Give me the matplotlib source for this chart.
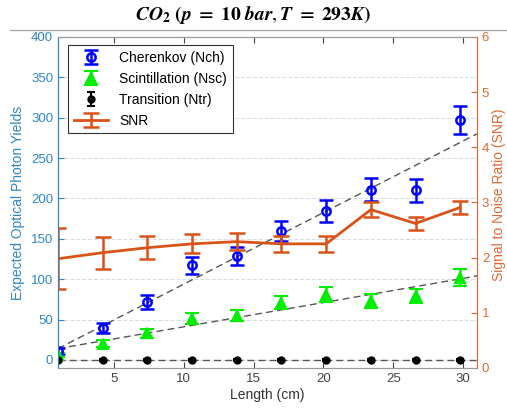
import matplotlib.pyplot as plt
from matplotlib.lines import Line2D

plt.rcParams['font.family'] = ['Liberation Sans', 'DejaVu Sans']
plt.rcParams['mathtext.fontset'] = 'stix'

# data
length = [1.0, 4.2, 7.4, 10.6, 13.8, 17.0, 20.2, 23.4, 26.6, 29.8]

nch = [11, 40, 72, 117, 129, 160, 185, 211, 210, 297]
nch_err = [3.3, 6.3, 8.5, 10.8, 11.4, 12.6, 13.6, 14.5, 14.5, 17.2]

nsc = [6, 20, 33, 51, 55, 71, 81, 73, 79, 102]
nsc_err = [2.5, 4.5, 5.7, 7.1, 7.4, 8.4, 9.0, 8.5, 8.9, 10.1]

ntr = [0, 0, 0, 0, 0, 0, 0, 0, 0, 0]
ntr_err = [1, 1, 1, 1, 1, 1, 1, 1, 1, 1]

snr = [1.98, 2.09, 2.18, 2.25, 2.29, 2.25, 2.25, 2.87, 2.62, 2.91]
snr_err = [0.55, 0.29, 0.21, 0.17, 0.16, 0.15, 0.14, 0.13, 0.12, 0.12]

# dashed linear fits (end points)
fit_x = [1, 31]
fit_ch = [14, 280]
fit_sc = [14, 104]
fit_tr = [0, 0]

blue = '#2E86C8'
orange = '#D95319'
orange_ax = '#DD6A35'

fig = plt.figure(figsize=(5.07, 4.13), dpi=100)
ax1 = fig.add_axes([0.1144, 0.109, 0.8264, 0.8015])
ax2 = ax1.twinx()

for fy in (fit_ch, fit_sc, fit_tr):
    ax1.plot(fit_x, fy, '--', color='#555555', lw=1, dashes=(5, 3), zorder=2)

h1 = ax1.errorbar(length, nch, yerr=nch_err, fmt='o', color='#0000FF', ms=6, mfc='none',
                  mew=1.8, elinewidth=1.8, capsize=5, capthick=1.8, zorder=3)
h2 = ax1.errorbar(length, nsc, yerr=nsc_err, fmt='^', color='#00EE00', ms=7,
                  mew=1.5, elinewidth=1.8, capsize=5, capthick=1.8, zorder=3)
h3 = ax1.errorbar(length, ntr, yerr=ntr_err, fmt='o', color='black', ms=4.5,
                  mew=1.5, elinewidth=1.5, capsize=3, capthick=1.5, zorder=3)
h4 = ax2.errorbar(length, snr, yerr=snr_err, fmt='-', color=orange, lw=2,
                  elinewidth=1.8, capsize=6, capthick=1.8)

ax1.set_xlim(1, 31)
ax1.set_ylim(-10, 400)
ax2.set_ylim(0, 6)
ax1.set_xticks([5, 10, 15, 20, 25, 30])
ax1.set_yticks(range(0, 401, 50))
ax2.set_yticks(range(0, 7))

ax1.grid(axis='y', linestyle='--', color='#d8dee6', lw=0.8)
ax1.set_axisbelow(True)

ax1.tick_params(axis='x', direction='in', top=True, colors='#444444', labelsize=9.5, length=4)
ax1.tick_params(axis='y', direction='in', colors=blue, labelsize=9.5, length=4)
ax2.tick_params(axis='y', direction='in', colors=orange_ax, labelsize=9.5, length=4)

for ax in (ax1, ax2):
    ax.spines['top'].set_color('#999999')
    ax.spines['bottom'].set_color('#999999')
    ax.spines['left'].set_color(blue)
    ax.spines['right'].set_color(orange_ax)

ax1.set_xlabel('Length (cm)', fontsize=10, color='#333333', labelpad=2)
ax1.set_ylabel('Expected Optical Photon Yields', fontsize=10, color=blue, labelpad=4)
fig.text(499 / 507, 1 - 195 / 413, 'Signal to Noise Ratio (SNR)', rotation=90,
         ha='center', va='center', fontsize=10, color=orange_ax)

fig.suptitle(r'$\mathbfit{CO}_{\mathbf{2}}\ \mathbf{(}\mathbfit{p}\ \mathbf{=\ 10}\ \mathbfit{bar},'
             r'\mathbfit{T}\ \mathbf{=\ 293}\mathbfit{K}\mathbf{)}$',
             y=1 - 15 / 413, va='center', fontsize=14)
fig.add_artist(Line2D([10 / 507, 1], [1 - 30 / 413, 1 - 30 / 413], color='#aaaaaa', lw=1))

leg = ax2.legend([h1, h2, h3, h4],
                 ['Cherenkov (Nch)', 'Scintillation (Nsc)', 'Transition (Ntr)', 'SNR'],
                 loc='upper left', bbox_to_anchor=(0.024, 0.975), fontsize=10,
                 fancybox=False, edgecolor='#333333', framealpha=1,
                 borderaxespad=0, handlelength=2.5, labelspacing=0.5)
leg.get_frame().set_linewidth(0.8)

fig.savefig('out.png', dpi=100)
